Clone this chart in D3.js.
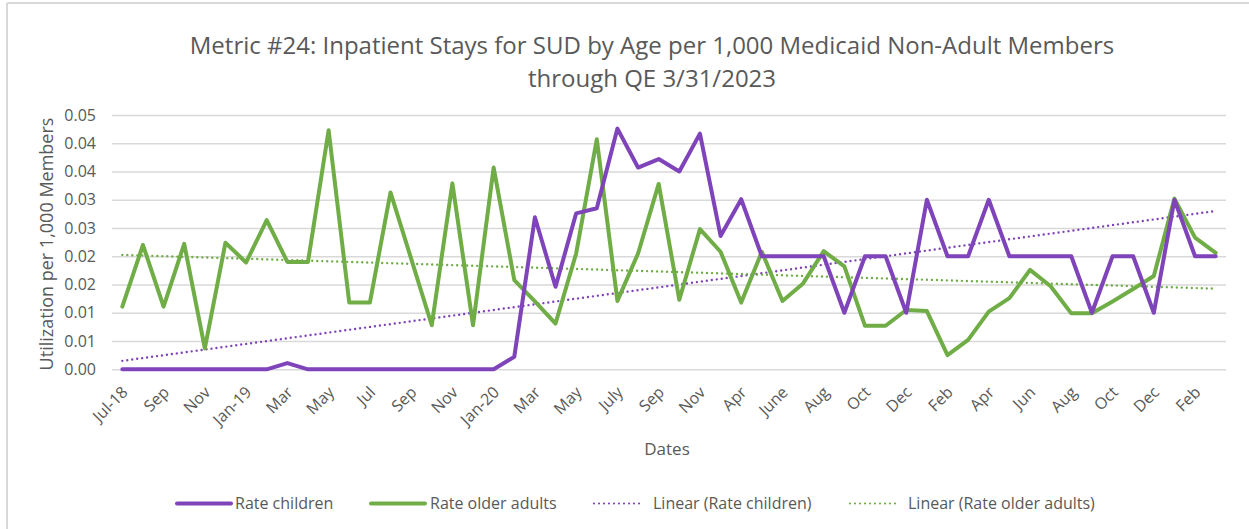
<!DOCTYPE html>
<html>
<head>
<meta charset="utf-8">
<script src="https://cdn.jsdelivr.net/npm/d3@7"></script>
<style>
  html, body { margin: 0; padding: 0; background: #fff; }
  svg { display: block; font-family: "Open Sans", sans-serif; }
</style>
</head>
<body>
<svg id="chart" width="1249" height="529"></svg>
<script>
// Monthly periods, Jul-18 through Mar-23
const periods = ["Jul-18","Aug","Sep","Oct","Nov","Dec","Jan-19","Feb","Mar","Apr","May","Jun",
  "Jul","Aug","Sep","Oct","Nov","Dec","Jan-20","Feb","Mar","Apr","May","Jun",
  "July","Aug","Sep","Oct","Nov","Mar","Apr","May","June","July","Aug","Sep",
  "Oct","Nov","Dec","Jan-22","Feb","Mar","Apr","May","Jun","Jul","Aug","Sep",
  "Oct","Nov","Dec","Jan-23","Feb","Mar"];

const rateChildren = [0,0,0,0,0,0,0,0,0.0011,0,0,0,
  0,0,0,0,0,0,0,0.0022,0.0269,0.0146,0.0276,0.0285,
  0.0426,0.0357,0.0372,0.0350,0.0417,0.0236,0.0301,0.02,0.02,0.02,0.02,0.01,
  0.02,0.02,0.01,0.03,0.02,0.02,0.03,0.02,0.02,0.02,0.02,0.01,
  0.02,0.02,0.01,0.03,0.02,0.02];

const rateOlderAdults = [0.0111,0.0220,0.0111,0.0222,0.0037,0.0224,0.0189,0.0264,0.0190,0.0190,0.0423,0.0118,
  0.0118,0.0313,0.0196,0.0078,0.0329,0.0078,0.0357,0.0158,0.0120,0.0081,0.0205,0.0407,
  0.0121,0.0205,0.0328,0.0123,0.0248,0.0208,0.0118,0.0208,0.0121,0.0152,0.0209,0.0182,
  0.0077,0.0077,0.0105,0.0103,0.0025,0.0052,0.0102,0.0126,0.0176,0.0147,0.0099,0.0099,
  0.0120,0.0142,0.0165,0.0302,0.0233,0.0206];

const yTickValues = [0,0.005,0.01,0.015,0.02,0.025,0.03,0.035,0.04,0.045];
const yTickLabels = ["0.00","0.01","0.01","0.02","0.02","0.03","0.03","0.04","0.04","0.05"];

const titleLines = ["Metric #24: Inpatient Stays for SUD by Age per 1,000 Medicaid Non-Adult Members",
  "through QE 3/31/2023"];

const PURPLE = "#7F44B9";
const GREEN = "#70AD47";
const TEXT = "#595959";
const GRID = "#D9D9D9";

const svg = d3.select("#chart");

// chart frame edges
svg.append("line").attr("x1", 7).attr("x2", 7).attr("y1", 3).attr("y2", 529)
  .attr("stroke", GRID).attr("stroke-width", 2);
svg.append("line").attr("x1", 7).attr("x2", 1249).attr("y1", 3).attr("y2", 3)
  .attr("stroke", GRID).attr("stroke-width", 2);

const plot = { left: 112, right: 1226, top: 115, bottom: 369.3 };

const idx = d3.range(periods.length);
const x = d3.scalePoint().domain(idx).range([plot.left, plot.right]).padding(0.5);
const y = d3.scaleLinear().domain([0, 0.045]).range([plot.bottom, plot.top]);

// title
svg.append("text")
  .attr("x", 652).attr("y", 54).attr("text-anchor", "middle")
  .attr("fill", TEXT).attr("font-size", 24)
  .selectAll("tspan").data(titleLines).join("tspan")
  .attr("x", 652).attr("dy", (d, i) => i === 0 ? 0 : 33).text(d => d);

// gridlines + y tick labels
const yAxis = d3.axisLeft(y).tickValues(yTickValues)
  .tickSize(-(plot.right - plot.left)).tickPadding(16)
  .tickFormat((d, i) => yTickLabels[i]);
const gy = svg.append("g").attr("transform", `translate(${plot.left},0)`).call(yAxis);
gy.select(".domain").remove();
gy.selectAll(".tick line").attr("stroke", GRID).attr("stroke-width", 1.5);
gy.selectAll(".tick text").attr("fill", TEXT).attr("font-size", 16)
  .attr("font-family", "'Open Sans', sans-serif").attr("x", -16);

// x tick labels (every other period)
const xAxis = d3.axisBottom(x).tickSize(0)
  .tickValues(idx.filter(i => i % 2 === 0))
  .tickFormat(i => periods[i]);
const gx = svg.append("g").attr("transform", `translate(0,${plot.bottom})`).call(xAxis);
gx.select(".domain").remove();
gx.selectAll(".tick text")
  .attr("fill", TEXT).attr("font-size", 16).attr("font-family", "'Open Sans', sans-serif")
  .attr("text-anchor", "end")
  .attr("y", 0).attr("dy", 0)
  .attr("transform", "translate(6,24) rotate(-45)");

// axis titles
svg.append("text").attr("x", 667).attr("y", 455).attr("text-anchor", "middle")
  .attr("fill", TEXT).attr("font-size", 17).text("Dates");
svg.append("text").attr("transform", "translate(53,244) rotate(-90)")
  .attr("text-anchor", "middle").attr("fill", TEXT).attr("font-size", 18)
  .text("Utilization per 1,000 Members");

// least-squares trend over period index
function trend(values) {
  const n = values.length;
  const mx = d3.mean(idx), my = d3.mean(values);
  let sxy = 0, sxx = 0;
  idx.forEach(i => { sxy += (i - mx) * (values[i] - my); sxx += (i - mx) * (i - mx); });
  const b = sxy / sxx, a = my - b * mx;
  return [0, n - 1].map(i => [i, a + b * i]);
}

const dotted = d3.line().x(d => x(d[0])).y(d => y(d[1]));
svg.append("path").attr("d", dotted(trend(rateChildren)))
  .attr("fill", "none").attr("stroke", PURPLE).attr("stroke-width", 2.4)
  .attr("stroke-linecap", "round").attr("stroke-dasharray", "0 5");
svg.append("path").attr("d", dotted(trend(rateOlderAdults)))
  .attr("fill", "none").attr("stroke", GREEN).attr("stroke-width", 2.4)
  .attr("stroke-linecap", "round").attr("stroke-dasharray", "0 5");

const line = d3.line().x((d, i) => x(i)).y(d => y(d));
svg.append("path").attr("d", line(rateOlderAdults))
  .attr("fill", "none").attr("stroke", GREEN).attr("stroke-width", 4)
  .attr("stroke-linejoin", "round").attr("stroke-linecap", "round");
svg.append("path").attr("d", line(rateChildren))
  .attr("fill", "none").attr("stroke", PURPLE).attr("stroke-width", 4)
  .attr("stroke-linejoin", "round").attr("stroke-linecap", "round");

// legend
const legendItems = [
  { label: "Rate children", color: PURPLE, dotted: false, x0: 177, x1: 231, tx: 235 },
  { label: "Rate older adults", color: GREEN, dotted: false, x0: 371, x1: 425, tx: 430 },
  { label: "Linear (Rate children)", color: PURPLE, dotted: true, x0: 594, x1: 642, tx: 653 },
  { label: "Linear (Rate older adults)", color: GREEN, dotted: true, x0: 850, x1: 898, tx: 908 }
];
const lg = svg.append("g");
legendItems.forEach(it => {
  lg.append("line").attr("x1", it.x0).attr("x2", it.x1).attr("y1", 503.5).attr("y2", 503.5)
    .attr("stroke", it.color).attr("stroke-width", it.dotted ? 2.2 : 4)
    .attr("stroke-linecap", "round")
    .attr("stroke-dasharray", it.dotted ? "0 5" : null);
  lg.append("text").attr("x", it.tx).attr("y", 509).attr("fill", TEXT)
    .attr("font-size", 16).text(it.label);
});
</script>
</body>
</html>
